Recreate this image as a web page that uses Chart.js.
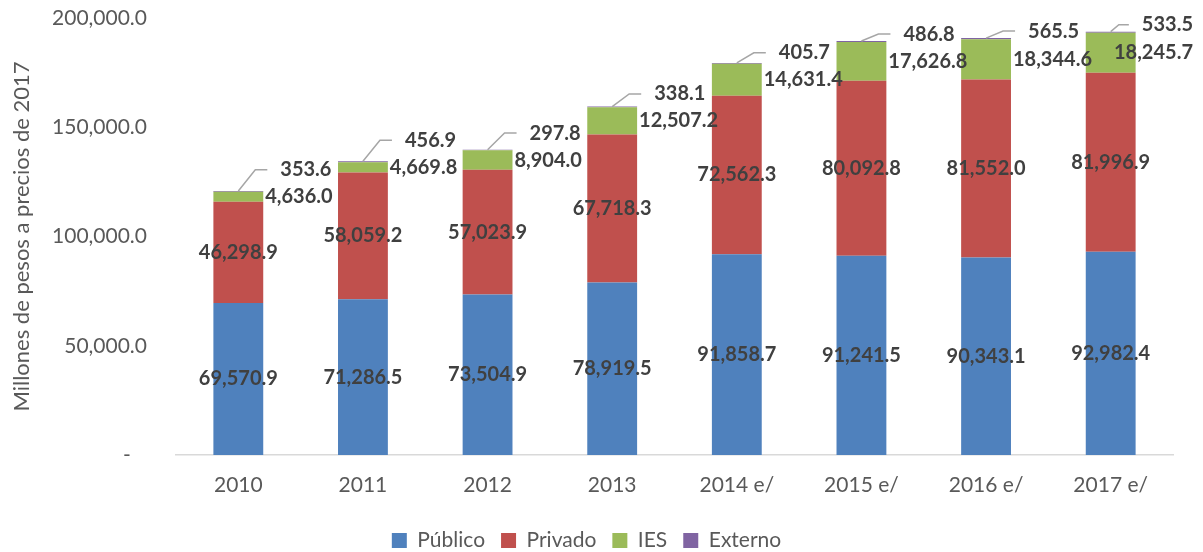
<!DOCTYPE html>
<html>
<head>
<meta charset="utf-8">
<script src="https://cdn.jsdelivr.net/npm/chart.js@4.4.0/dist/chart.umd.min.js"></script>
<style>
  html, body { margin: 0; padding: 0; background: #fff; }
  #wrap { width: 1203px; height: 552px; position: relative; }
</style>
</head>
<body>
<div id="wrap"><canvas id="c"></canvas></div>
<script>
const years = ['2010', '2011', '2012', '2013', '2014 e/', '2015 e/', '2016 e/', '2017 e/'];
const publico = [69570.9, 71286.5, 73504.9, 78919.5, 91858.7, 91241.5, 90343.1, 92982.4];
const privado = [46298.9, 58059.2, 57023.9, 67718.3, 72562.3, 80092.8, 81552.0, 81996.9];
const ies = [4636.0, 4669.8, 8904.0, 12507.2, 14631.4, 17626.8, 18344.6, 18245.7];
const externo = [353.6, 456.9, 297.8, 338.1, 405.7, 486.8, 565.5, 533.5];
const yTicks = [0, 50000, 100000, 150000, 200000];

const FONT = 'Lato, "Open Sans", sans-serif';
const fmt = (v) => v.toLocaleString('en-US', { minimumFractionDigits: 1, maximumFractionDigits: 1 });

// value labels: inside for Público / Privado, beside for IES, leader line for Externo
const barLabels = {
  id: 'barLabels',
  afterDatasetsDraw(chart) {
    const ctx = chart.ctx;
    const limit = chart.width - 10;
    ctx.save();
    ctx.font = 'bold 20px ' + FONT;
    ctx.fillStyle = '#404040';
    ctx.textBaseline = 'middle';
    [0, 1].forEach((di) => {
      chart.getDatasetMeta(di).data.forEach((bar, i) => {
        ctx.textAlign = 'center';
        ctx.fillText(fmt(chart.data.datasets[di].data[i]), bar.x, (bar.y + bar.base) / 2);
      });
    });
    const iesMeta = chart.getDatasetMeta(2);
    const extMeta = chart.getDatasetMeta(3);
    iesMeta.data.forEach((bar, i) => {
      const txt = fmt(ies[i]);
      const w = ctx.measureText(txt).width;
      const tx = Math.min(bar.x + bar.width / 2 + 2, limit - w);
      const iesY = (bar.y + bar.base) / 2;
      ctx.textAlign = 'left';
      ctx.fillText(txt, tx, iesY);

      const ext = extMeta.data[i];
      const etxt = fmt(externo[i]);
      const ew = ctx.measureText(etxt).width;
      const ty = Math.min(ext.y - 7, iesY - 27);
      const ex = Math.min(ext.x + 42, limit - ew);
      const lineEnd = ex - 13;
      const diagEnd = Math.min(ext.x + 17, lineEnd - 10);
      ctx.strokeStyle = '#a6a6a6';
      ctx.lineWidth = 1.5;
      ctx.beginPath();
      ctx.moveTo(ext.x, ext.y);
      ctx.lineTo(diagEnd, ty);
      ctx.lineTo(lineEnd, ty);
      ctx.stroke();
      ctx.fillText(etxt, ex, ty);
    });
    ctx.restore();
  }
};

new Chart(document.getElementById('c'), {
  type: 'bar',
  data: {
    labels: years,
    datasets: [
      { label: 'Público', data: publico, backgroundColor: '#4F81BD' },
      { label: 'Privado', data: privado, backgroundColor: '#C0504D' },
      { label: 'IES', data: ies, backgroundColor: '#9BBB59' },
      { label: 'Externo', data: externo, backgroundColor: '#8064A2' }
    ]
  },
  options: {
    responsive: true,
    maintainAspectRatio: false,
    animation: false,
    layout: { autoPadding: false, padding: { top: 0, right: 30, left: 0, bottom: -9 } },
    datasets: { bar: { categoryPercentage: 1, barPercentage: 0.4, borderWidth: 0 } },
    scales: {
      x: {
        stacked: true,
        grid: { display: false },
        border: { color: '#d9d9d9', width: 1.5 },
        ticks: { color: '#595959', font: { family: FONT, size: 21 }, padding: 10 },
        afterFit: (s) => { s.height = 59; }
      },
      y: {
        stacked: true,
        min: 0,
        max: 200000,
        afterBuildTicks: (s) => { s.ticks = yTicks.map((v) => ({ value: v })); },
        grid: { display: false, drawTicks: false },
        border: { display: false },
        ticks: {
          color: '#595959',
          font: { family: FONT, size: 21 },
          padding: 29,
          callback: (v) => (v === 0 ? '-   ' : fmt(v))
        },
        title: {
          display: true,
          text: 'Millones de pesos a precios de 2017',
          color: '#595959',
          font: { family: FONT, size: 22 },
          padding: { top: 9, bottom: 0 }
        },
        afterFit: (s) => {
          s.width = 176;
          s.paddingTop = 18;
          s.paddingBottom = 0;
        }
      }
    },
    plugins: {
      legend: {
        position: 'bottom',
        labels: {
          color: '#595959',
          font: { family: FONT, size: 21 },
          boxWidth: 15,
          boxHeight: 15,
          padding: 16
        }
      },
      tooltip: { enabled: false }
    }
  },
  plugins: [barLabels]
});
</script>
</body>
</html>
